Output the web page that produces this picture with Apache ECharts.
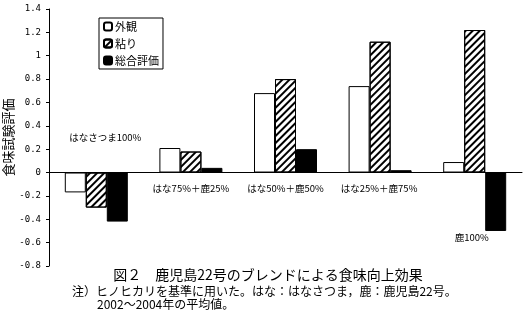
<!DOCTYPE html>
<html><head><meta charset="utf-8">
<script src="https://cdn.jsdelivr.net/npm/echarts@6/dist/echarts.min.js"></script>
<style>html,body{margin:0;padding:0;background:#fff}#c{width:528px;height:321px}</style>
</head><body><div id="c"></div>
<script>
var categories = ['はなさつま100%', 'はな75%＋鹿25%', 'はな50%＋鹿50%', 'はな25%＋鹿75%', '鹿100%'];
var seriesNames = ['外観', '粘り', '総合評価'];
var appearance = [-0.17, 0.21, 0.68, 0.74, 0.09];
var stickiness = [-0.30, 0.18, 0.80, 1.12, 1.22];
var overall = [-0.42, 0.04, 0.20, 0.02, -0.50];
var yTicks = { min: -0.8, max: 1.4, interval: 0.2 };
var titleText = '図２　鹿児島22号のブレンドによる食味向上効果';
var noteLine1 = '注）ヒノヒカリを基準に用いた。はな：はなさつま，鹿：鹿児島22号。';
var noteLine2 = '2002～2004年の平均値。';
var yName = '食味試験評価';

var JP = '"Noto Sans CJK JP", sans-serif';
var chart = echarts.init(document.getElementById('c'), null, { renderer: 'canvas' });
var bw = 21;
var option = {
  animation: false,
  backgroundColor: '#fff',
  grid: { left: 49, right: 6, top: 9, bottom: 55, containLabel: false, outerBoundsMode: 'none' },
  legend: {
    orient: 'vertical', left: 99, top: 18,
    itemWidth: 8, itemHeight: 8, itemGap: 6,
    borderColor: '#000', borderWidth: 1, padding: [3, 4, 3, 4],
    textStyle: { fontFamily: JP, fontSize: 11, color: '#000', padding: [0, 0, 0, -2] },
    data: seriesNames
  },
  xAxis: {
    type: 'category', data: categories,
    axisLine: { onZero: true, lineStyle: { color: '#000', width: 1 } },
    axisTick: { inside: true, length: 4, lineStyle: { color: '#000' } },
    axisLabel: { show: false }
  },
  yAxis: {
    type: 'value', min: yTicks.min, max: yTicks.max, interval: yTicks.interval,
    axisLine: { show: true, lineStyle: { color: '#000' } },
    axisTick: { show: true, length: 3, lineStyle: { color: '#000' } },
    axisLabel: { fontFamily: '"DejaVu Sans Mono", monospace', fontSize: 9, color: '#000', margin: 8 },
    splitLine: { show: false }
  },
  series: [
    { name: seriesNames[0], type: 'bar', data: appearance, barWidth: bw, barGap: 0,
      itemStyle: { color: '#fff', borderColor: '#000', borderWidth: 1 } },
    { name: seriesNames[1], type: 'bar', data: stickiness, barWidth: bw, barGap: 0,
      itemStyle: { color: '#fff', borderColor: '#000', borderWidth: 1,
        decal: { symbol: 'rect', symbolSize: 1, dashArrayX: [1, 0], dashArrayY: [2, 3], rotation: -Math.PI / 4, color: '#000' } } },
    { name: seriesNames[2], type: 'bar', data: overall, barWidth: bw, barGap: 0,
      itemStyle: { color: '#000', borderColor: '#000', borderWidth: 1 } }
  ],
  title: [
    { text: titleText, left: 263, top: 263, textAlign: 'center',
      textStyle: { fontFamily: JP, fontSize: 14, fontWeight: 'normal', color: '#000' } }
  ]
};
chart.setOption(option);

// category labels placed relative to the axis scale
var labelDy = [-35, 16, 16, 16, 65];
var labelDx = [9, 0, 0, -1, -3];
var g = [];
categories.forEach(function (c, i) {
  var p = chart.convertToPixel({ gridIndex: 0 }, [i, 0]);
  g.push({ type: 'text', x: p[0] + labelDx[i], y: p[1] + labelDy[i],
    style: { text: c, font: '9.5px ' + JP, fill: '#000', textAlign: 'center', textVerticalAlign: 'middle' } });
});
var mid = chart.convertToPixel({ gridIndex: 0 }, [0, (yTicks.min + yTicks.max) / 2]);
g.push({ type: 'text', x: 8, y: mid[1], rotation: Math.PI / 2,
  style: { text: yName, font: '13px ' + JP, fill: '#000', textAlign: 'center', textVerticalAlign: 'middle' } });
g.push({ type: 'text', left: 72, top: 285, style: { text: noteLine1, font: '12px ' + JP, fill: '#000' } });
g.push({ type: 'text', left: 97, top: 298, style: { text: noteLine2, font: '12px ' + JP, fill: '#000' } });
chart.setOption({ graphic: g });
</script></body></html>
